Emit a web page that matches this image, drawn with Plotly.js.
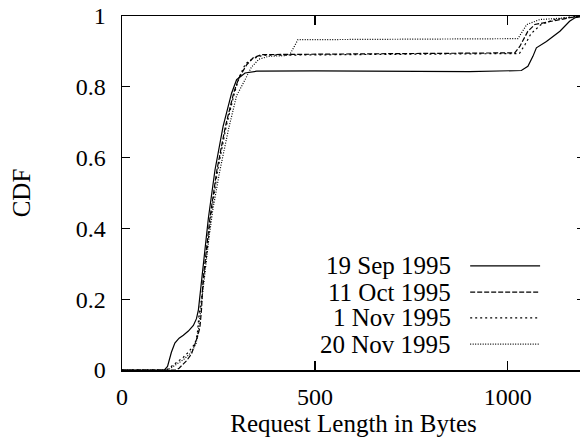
<!DOCTYPE html>
<html>
<head>
<meta charset="utf-8">
<script src="https://cdn.plot.ly/plotly-3.0.1.min.js"></script>
<style>
html,body{margin:0;padding:0;overflow:hidden;background:#fff;}
#chart{width:585px;height:438px;}
</style>
</head>
<body>
<div id="chart"></div>
<script>
// Series names
var seriesNames = ["19 Sep 1995", "11 Oct 1995", "1 Nov 1995", "20 Nov 1995"];

// 19 Sep 1995
var sepX = [0,110,118,128,137,148,159,172,185,193,198,206,215,224,241,262,284,297,319,349,500,700,900,1035,1052,1065,1074,1100,1135,1160,1174,1200];
var sepY = [0,0,0.01,0.05,0.076,0.09,0.098,0.11,0.126,0.145,0.17,0.25,0.34,0.43,0.565,0.688,0.782,0.82,0.839,0.844,0.845,0.844,0.843,0.846,0.858,0.886,0.91,0.928,0.957,0.985,0.995,1];

// 11 Oct 1995
var octX = [0,140,148,158,168,180,189,196,202,206,210,219,228,246,268,290,303,323,340,362,600,800,1018,1031,1052,1070,1109,1160,1190];
var octY = [0,0,0.005,0.015,0.027,0.045,0.07,0.095,0.121,0.17,0.253,0.34,0.43,0.565,0.688,0.785,0.825,0.862,0.882,0.891,0.893,0.895,0.896,0.914,0.957,0.976,0.985,0.995,1];

// 1 Nov 1995
var nov1X = [0,115,125,140,159,172,184,189,195,200,206,212,221,230,248,270,292,305,320,340,365,600,800,1030,1045,1060,1085,1120,1160,1190];
var nov1Y = [0,0,0.008,0.02,0.036,0.05,0.065,0.074,0.1,0.16,0.2,0.253,0.34,0.43,0.565,0.688,0.785,0.83,0.865,0.88,0.889,0.891,0.893,0.894,0.92,0.95,0.975,0.99,0.997,1];

// 20 Nov 1995
var nov20X = [0,120,130,145,160,175,185,192,198,203,209,215,225,235,253,276,297,319,335,355,380,420,435,456,700,900,1026,1040,1049,1083,1168,1190];
var nov20Y = [0,0,0.008,0.018,0.03,0.045,0.06,0.075,0.11,0.16,0.22,0.28,0.37,0.45,0.56,0.68,0.775,0.82,0.855,0.878,0.886,0.888,0.891,0.933,0.934,0.935,0.936,0.96,0.976,0.99,0.996,1];

// Axis ticks
var xTickVals = [0, 500, 1000];
var yTickVals = [0, 0.2, 0.4, 0.6, 0.8, 1];

var dashes = ["solid", "5px,2px", "2px,3px", "1px,1.5px"];
var xs = [sepX, octX, nov1X, nov20X];
var ys = [sepY, octY, nov1Y, nov20Y];

var serif = "'Liberation Serif', 'Times New Roman', Times, serif";

var traces = xs.map(function(x, i){
  return {
    x: x, y: ys[i], type: "scatter", mode: "lines", name: seriesNames[i],
    line: {color: "#000", width: 1.2, dash: dashes[i]},
    showlegend: false, hoverinfo: "skip"
  };
});

var legendY = [0.294, 0.220, 0.147, 0.073];
var annotations = seriesNames.map(function(n, i){
  return {
    xref: "paper", yref: "paper", x: 0.715, y: legendY[i],
    xanchor: "right", yanchor: "middle", showarrow: false,
    text: n, font: {family: serif, size: 25, color: "#000"}
  };
});
var shapes = seriesNames.map(function(n, i){
  return {
    type: "line", xref: "paper", yref: "paper",
    x0: 0.752, x1: 0.903, y0: legendY[i], y1: legendY[i],
    line: {color: "#000", width: 1.2, dash: dashes[i]}
  };
});

var layout = {
  width: 585, height: 438,
  margin: {l: 122, r: 0, t: 16, b: 68},
  paper_bgcolor: "#fff", plot_bgcolor: "#fff",
  font: {family: serif, size: 24, color: "#000"},
  xaxis: {
    range: [0, 1200], tickvals: xTickVals, ticks: "inside", ticklen: 9,
    tickcolor: "#000", tickwidth: 1.2,
    showline: true, linecolor: "#000", linewidth: 1.5, mirror: "ticks",
    showgrid: false, zeroline: false,
    tickfont: {family: serif, size: 24, color: "#000"},
    ticklabelstandoff: 5,
    title: {text: "Request Length in Bytes", font: {family: serif, size: 25, color: "#000"}, standoff: 3}
  },
  yaxis: {
    range: [0, 1], tickvals: yTickVals, ticks: "inside", ticklen: 8,
    tickcolor: "#000", tickwidth: 1.2,
    showline: true, linecolor: "#000", linewidth: 1.5, mirror: "ticks",
    showgrid: false, zeroline: false,
    tickfont: {family: serif, size: 24, color: "#000"},
    ticklabelstandoff: 10,
    title: {text: "CDF", font: {family: serif, size: 25, color: "#000"}, standoff: 38}
  },
  annotations: annotations,
  shapes: shapes,
  showlegend: false
};

Plotly.newPlot("chart", traces, layout, {displayModeBar: false, staticPlot: true});
</script>
</body>
</html>
